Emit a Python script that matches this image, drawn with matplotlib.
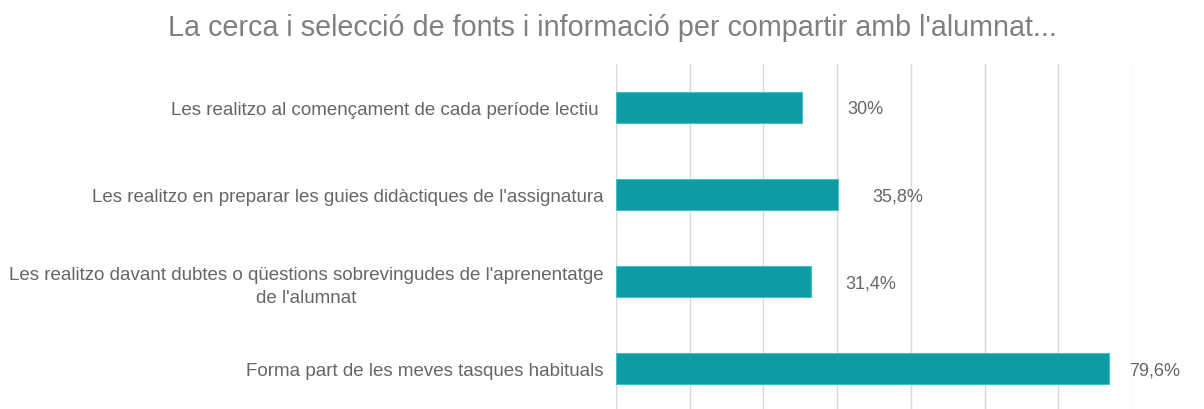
import numpy as np
import matplotlib.pyplot as plt

# data
categories = [
    "Les realitzo al començament de cada període lectiu ",
    "Les realitzo en preparar les guies didàctiques de l'assignatura",
    "Les realitzo davant dubtes o qüestions sobrevingudes de l'aprenentatge\nde l'alumnat",
    "Forma part de les meves tasques habituals",
]
values = [30.0, 35.8, 31.4, 79.6]
value_labels = ["30%", "35,8%", "31,4%", "79,6%"]

# how far each value label sits from the end of its bar (pixels)
label_gap = [46, 35, 35, 20]

plt.rcParams['font.family'] = ['Liberation Sans', 'DejaVu Sans']

fig = plt.figure(figsize=(12.04, 4.10), dpi=100)
W, H = 1204, 410
ax = fig.add_axes([616 / W, -3 / H, (1132 - 616) / W, 348 / H])

ypos = list(range(len(categories)))
ax.barh(ypos, values, height=0.345, color='#0E9CA4', edgecolor='#43C0C6', linewidth=0.8, zorder=3)

xmax = 83.3
ax.set_xlim(0, xmax)
ax.set_ylim(len(categories) - 0.5, -0.5)
ax.set_xticks(np.linspace(0, xmax, 8))
ax.grid(axis='x', color='#D9D9D9', linewidth=1, zorder=0)
ax.tick_params(axis='x', length=0, labelbottom=False)
ax.tick_params(axis='y', length=0, pad=9)
ax.set_yticks(ypos)
ax.set_yticklabels(categories, fontsize=13.5, color='#666666',
                   multialignment='center', linespacing=1.4)
for s in ax.spines.values():
    s.set_visible(False)

for i, (v, lab) in enumerate(zip(values, value_labels)):
    ax.annotate(lab, (v, i), xytext=(label_gap[i] * 72 / 100, -1), textcoords='offset points',
                va='center', ha='left', fontsize=13, color='#666666')

fig.text(612 / W, 1 - 28 / H, "La cerca i selecció de fonts i informació per compartir amb l'alumnat...",
         ha='center', va='center', fontsize=20.7, color='#808080')

fig.savefig('out.png', dpi=100)
